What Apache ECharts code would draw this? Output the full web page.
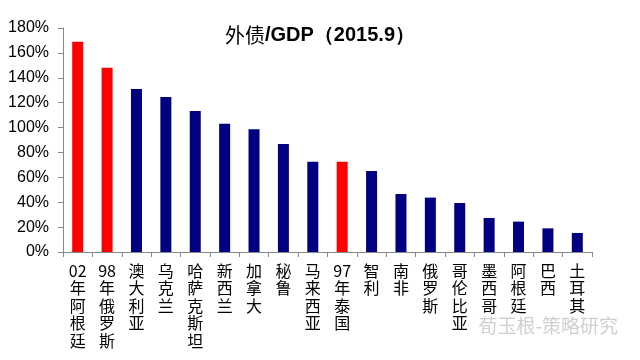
<!DOCTYPE html>
<html><head><meta charset="utf-8">
<script src="https://cdn.jsdelivr.net/npm/echarts@6/dist/echarts.min.js"></script>
<style>html,body{margin:0;padding:0;background:#fff}#c{width:640px;height:360px}</style>
</head><body><div id="c"></div>
<script>
const categories = ['02年阿根廷','98年俄罗斯','澳大利亚','乌克兰','哈萨克斯坦','新西兰','加拿大','秘鲁','马来西亚','97年泰国','智利','南非','俄罗斯','哥伦比亚','墨西哥','阿根廷','巴西','土耳其'];
const values = [169, 148, 131, 124.5, 113.3, 103, 98.6, 86.8, 72.6, 72.6, 65.1, 46.6, 43.7, 39.4, 27.3, 24.4, 19, 15.3];
const highlighted = ['02年阿根廷','98年俄罗斯','97年泰国'];
const yTicks = {min: 0, max: 180, interval: 20};

const chart = echarts.init(document.getElementById('c'));
chart.setOption({
  animation: false,
  title: {
    text: '{a|外债}{b|/GDP（2015.9）}',
    left: 'center', top: 20,
    textStyle: {
      fontWeight: 'normal',
      rich: {
        a: {fontFamily: 'Noto Sans CJK SC', fontWeight: 'normal', fontSize: 20, color: '#000'},
        b: {fontFamily: 'Liberation Sans, Arial', fontWeight: 'bold', fontSize: 20, color: '#000'}
      }
    }
  },
  grid: {left: 63, right: 48, top: 28, bottom: 108},
  xAxis: {
    type: 'category', data: categories,
    axisLine: {lineStyle: {color: '#888', width: 1}},
    axisTick: {show: true, length: 5, alignWithLabel: false, lineStyle: {color: '#888'}},
    axisLabel: {
      interval: 0, margin: 10, color: '#000', fontSize: 16, lineHeight: 17.5,
      fontFamily: 'Noto Sans CJK SC',
      formatter: v => (v.match(/\d+|./g) || []).join('\n'),
      verticalAlign: 'top'
    }
  },
  yAxis: {
    type: 'value', min: yTicks.min, max: yTicks.max, interval: yTicks.interval,
    splitLine: {show: false},
    axisLine: {show: true, lineStyle: {color: '#888'}},
    axisTick: {show: true, length: 5, lineStyle: {color: '#888'}},
    axisLabel: {formatter: '{value}%', color: '#000', fontSize: 16, fontFamily: 'Liberation Sans, Arial', margin: 14}
  },
  series: [{
    type: 'bar', barWidth: 11,
    data: values.map((v, i) => ({
      value: v,
      itemStyle: {color: highlighted.includes(categories[i]) ? '#FF0000' : '#000080'}
    }))
  }],
  graphic: [{
    type: 'text', right: 22, top: 316,
    style: {text: '荀玉根-策略研究', fill: '#d0d0d0', font: '19px "Noto Sans CJK SC"'}
  }]
});
</script></body></html>
